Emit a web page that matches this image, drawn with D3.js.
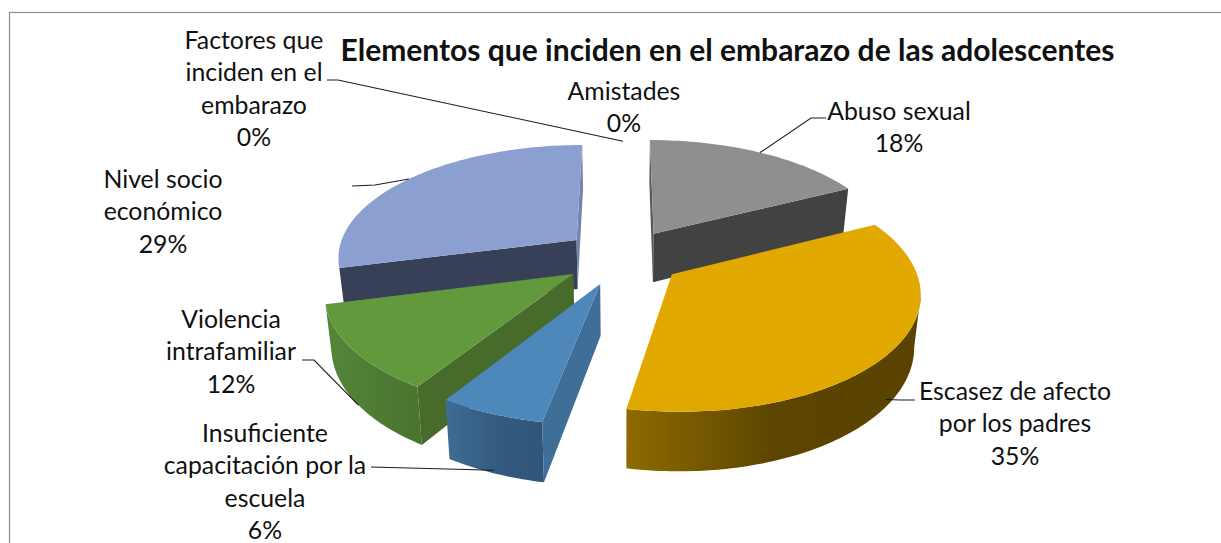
<!DOCTYPE html>
<html>
<head>
<meta charset="utf-8">
<script src="https://cdn.jsdelivr.net/npm/d3@7"></script>
<style>
    html, body { margin: 0; padding: 0; background: #fff; overflow: hidden; }
    text { font-family: Lato, "Open Sans", sans-serif; fill: #111; }
</style>
</head>
<body>
<svg id="chart" width="1221" height="543"></svg>
<script>
const titleText = "Elementos que inciden en el embarazo de las adolescentes";
const categories = ["Abuso sexual", "Escasez de afecto por los padres", "Insuficiente capacitación por la escuela",
    "Violencia intrafamiliar", "Nivel socio económico", "Factores que inciden en el embarazo", "Amistades"];
const percents = [17.6, 35.4, 6, 12, 29, 0, 0];
const labelLines = [
    ["Abuso sexual"],
    ["Escasez de afecto", "por los padres"],
    ["Insuficiente", "capacitación por la", "escuela"],
    ["Violencia", "intrafamiliar"],
    ["Nivel socio", "económico"],
    ["Factores que", "inciden en el", "embarazo"],
    ["Amistades"]
];
const topColors = ["#8f8f8f", "#e1a900", "#4e87ba", "#62993c", "#8c9fd1", "#999999", "#999999"];
const startWallColors = ["#5a5a5a", "#5a4300", "#3f6e99", "#476b2b", "#384057", "#555555", "#555555"];
const endWallColors = ["#424242", "#5a4300", "#3f6e99", "#476b2b", "#7583ad", "#555555", "#555555"];
const rimColors = [
    ["#424242", "#424242", "#424242"],
    ["#5a4300", "#5c4500", "#8e6b00"],
    ["#30567a", "#345c80", "#3e6c93"],
    ["#4a752f", "#4e7c33", "#55863a"],
    ["#384057", "#384057", "#384057"],
    ["#555555", "#555555", "#555555"],
    ["#555555", "#555555", "#555555"]
];

// label placement: centre x, first baseline, leader line knee points
const labelX = [899, 1015, 265, 231, 163, 254, 624];
const labelY = [120, 400, 442, 328, 188, 49, 100];
const leaders = [
    {z: 0, pts: [[826, 118], [811, 118]]},
    {z: 0.85, pts: [[915, 400], [900, 400]]},
    {z: 0.95, pts: [[371, 467]]},
    {z: 1, pts: [[302, 360], [314, 360]]},
    {z: 0, pts: [[352, 186], [375, 185]]},
    {z: 0.1, pts: [[327, 80], [338, 80]]},
    null
];

const svg = d3.select("#chart");
const defs = svg.append("defs");
const lineH = 32.3;
const explode = 0.25, persp = 0.14, shrink = 0.022, depth = 50;
const xGround = d3.scaleLinear().domain([-1, 1]).range([623 - 240, 623 + 240]);
const yGround = d3.scaleLinear().domain([-1, 1]).range([257 + 112.8, 257 - 112.8]);

// ground plane point (angle on the pie, radius) of a slice pushed out along its middle, z 0 top, 1 bottom
function project(d, angle, r, z) {
    let mid = (d.startAngle + d.endAngle) / 2;
    let X = explode * Math.sin(mid) + r * Math.sin(angle);
    let Y = explode * Math.cos(mid) + r * Math.cos(angle);
    let s = 1 / (1 + persp * Y);
    let x0 = xGround(0), y0 = yGround(0);
    return [x0 + (xGround(X) - x0) * s * (1 - shrink * z),
            y0 + (yGround(Y) - y0) * s + depth * z * s];
}

svg.append("rect")
    .attr("x", 9.5).attr("y", 12.5)
    .attr("width", 1300).attr("height", 600)
    .attr("fill", "#fff").attr("stroke", "#8c8c8c").attr("stroke-width", 1.2);

const pie = d3.pie().sort(null).value(d => d);
const arcs = pie(percents).map((d, i) => Object.assign(d, {i: i}));
const line = d3.line();

function arcAngles(d) {
    let n = Math.max(2, Math.ceil((d.endAngle - d.startAngle) / 0.02));
    return d3.range(n + 1).map(k => d.startAngle + (d.endAngle - d.startAngle) * k / n);
}

// back slices first
const drawn = arcs.filter(d => d.value > 0)
    .sort((a, b) => Math.cos((b.startAngle + b.endAngle) / 2) - Math.cos((a.startAngle + a.endAngle) / 2));

drawn.forEach(d => {
    let g = svg.append("g").attr("class", "slice");
    let top = arcAngles(d).map(a => project(d, a, 1, 0));

    // only the part of the rim that runs right to left on screen faces the viewer
    let front = arcAngles(d).filter((a, k, all) => {
        let p = project(d, a, 1, 0);
        let q = k < all.length - 1 ? project(d, all[k + 1], 1, 0) : project(d, all[k - 1], 1, 0);
        return k < all.length - 1 ? q[0] < p[0] : q[0] > p[0];
    });
    if (front.length > 1) {
        let rimTop = front.map(a => project(d, a, 1, 0));
        let rimBottom = front.map(a => project(d, a, 1, 1)).reverse();
        let grad = defs.append("linearGradient")
            .attr("id", "rim" + d.i)
            .attr("gradientUnits", "userSpaceOnUse")
            .attr("x1", rimTop[0][0]).attr("x2", rimTop[rimTop.length - 1][0])
            .attr("y1", 0).attr("y2", 0);
        rimColors[d.i].forEach((c, k) => {
            grad.append("stop").attr("offset", k / 2).attr("stop-color", c);
        });
        g.append("path")
            .attr("d", line(rimTop.concat(rimBottom)) + "Z")
            .attr("fill", "url(#rim" + d.i + ")");
    }

    // flat cut faces, kept only when they turn towards the viewer
    [[d.startAngle, startWallColors[d.i], -1], [d.endAngle, endWallColors[d.i], 1]].forEach(w => {
        let a = project(d, 0, 0, 0), b = project(d, w[0], 1, 0), c = project(d, 0, 0, 1);
        let cross = (b[0] - a[0]) * (c[1] - a[1]) - (b[1] - a[1]) * (c[0] - a[0]);
        if (cross * w[2] <= 0) return;
        g.append("path")
            .attr("d", line([a, b, project(d, w[0], 1, 1), c]) + "Z")
            .attr("fill", w[1]);
    });

    g.append("path")
        .attr("d", line([project(d, 0, 0, 0)].concat(top)) + "Z")
        .attr("fill", topColors[d.i]);
});

// leader lines
arcs.forEach(d => {
    let l = leaders[d.i];
    if (!l) return;
    let anchor = project(d, (d.startAngle + d.endAngle) / 2, 1, l.z);
    svg.append("path")
        .attr("d", line(l.pts.concat([anchor])))
        .attr("fill", "none")
        .attr("stroke", "#1a1a1a")
        .attr("stroke-width", 1.1);
});

// data labels
arcs.forEach(d => {
    let t = svg.append("text")
        .attr("text-anchor", "middle")
        .attr("font-size", 24.8);
    labelLines[d.i].concat([Math.round(d.value) + "%"]).forEach((s, k) => {
        t.append("tspan")
            .attr("x", labelX[d.i])
            .attr("y", labelY[d.i] + k * lineH)
            .text(s);
    });
});

svg.append("text")
    .attr("x", 727.5).attr("y", 61)
    .attr("text-anchor", "middle")
    .attr("font-size", 30)
    .attr("font-weight", 700)
    .text(titleText);
</script>
</body>
</html>
